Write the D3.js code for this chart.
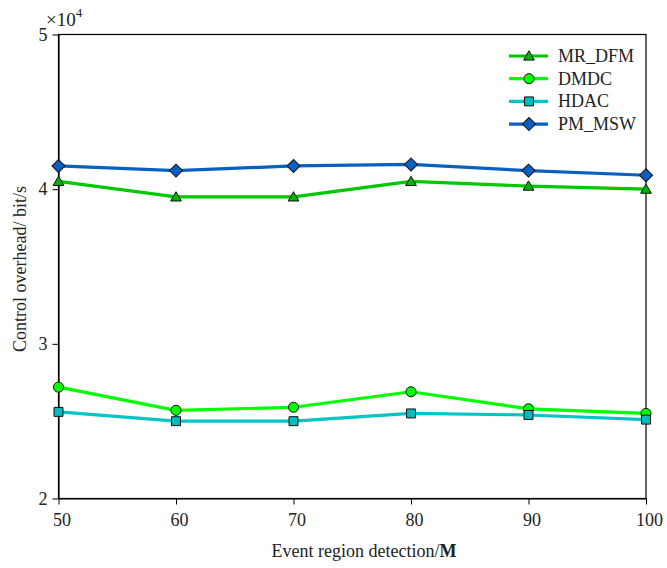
<!DOCTYPE html>
<html><head><meta charset="utf-8">
<script src="https://cdn.jsdelivr.net/npm/d3@7"></script>
<style>
body{margin:0;background:#fff;}
text{font-family:"Liberation Serif","Times New Roman",serif;fill:#222;}
</style></head>
<body><svg id="c" width="667" height="568"></svg>
<script>
const xValues = [50, 60, 70, 80, 90, 100];
const mrDfm = [40500, 39500, 39500, 40500, 40200, 40000];
const dmdc = [27200, 25700, 25900, 26900, 25800, 25500];
const hdac = [25600, 25000, 25000, 25500, 25400, 25100];
const pmMsw = [41500, 41200, 41500, 41600, 41200, 40900];
const yTicks = [20000, 30000, 40000, 50000];
const seriesNames = ["MR_DFM", "DMDC", "HDAC", "PM_MSW"];

const series = [
  {name: seriesNames[0], values: mrDfm, line: "#00c800", fill: "#00b400", sym: d3.symbolTriangle, size: 50, rot: 0, dy: 1},
  {name: seriesNames[1], values: dmdc, line: "#00ff00", fill: "#00ff00", sym: d3.symbolCircle, size: 80, rot: 0, dy: 0},
  {name: seriesNames[2], values: hdac, line: "#00c4c4", fill: "#00bcbc", sym: d3.symbolSquare, size: 80, rot: 0, dy: 0},
  {name: seriesNames[3], values: pmMsw, line: "#0a60c0", fill: "#0a60c0", sym: d3.symbolSquare, size: 85, rot: 45, dy: 0}
];

const svg = d3.select("#c");
const L = 58.5, R = 646, T = 34.5, B = 498.5;
const x = d3.scaleLinear().domain([50, 100]).range([L, R]);
const y = d3.scaleLinear().domain([20000, 50000]).range([B, T]);

// frame
svg.append("rect").attr("x", L).attr("y", T).attr("width", R - L).attr("height", B - T)
  .attr("fill", "none").attr("stroke", "#000").attr("stroke-width", 1.2);

const xa = svg.append("g").attr("transform", `translate(0,${B})`)
  .call(d3.axisBottom(x).tickValues(xValues).tickSize(6).tickSizeOuter(0).tickPadding(9).tickFormat(d3.format("d")));
xa.attr("font-family", null);
xa.select(".domain").attr("stroke", "#000").attr("stroke-width", 1.2);
xa.selectAll(".tick line").attr("stroke", "#000");
xa.selectAll(".tick text").attr("font-size", 18).attr("dx", 3).attr("fill", "#222");

const ya = svg.append("g").attr("transform", `translate(${L},0)`)
  .call(d3.axisLeft(y).tickValues(yTicks).tickSize(6).tickSizeOuter(0).tickPadding(5).tickFormat(d => d / 10000));
ya.attr("font-family", null);
ya.select(".domain").attr("stroke", "#000").attr("stroke-width", 1.2);
ya.selectAll(".tick line").attr("stroke", "#000");
ya.selectAll(".tick text").attr("font-size", 18).attr("fill", "#222");

// exponent
const ex = svg.append("text").attr("x", 46).attr("y", 26).attr("font-size", 19);
ex.append("tspan").text("×10");
ex.append("tspan").attr("font-size", 13).attr("dy", -9).text("4");

// axis titles
const xt = svg.append("text").attr("x", 364).attr("y", 557).attr("text-anchor", "middle").attr("font-size", 18);
xt.append("tspan").text("Event region detection/");
xt.append("tspan").attr("font-weight", "bold").text("M");

svg.append("text").attr("transform", "translate(26,269) rotate(-90)")
  .attr("text-anchor", "middle").attr("font-size", 18).text("Control overhead/ bit/s");

const line = d3.line().x((d, i) => x(xValues[i])).y(d => y(d));
series.forEach(s => {
  svg.append("path").attr("d", line(s.values)).attr("fill", "none")
    .attr("stroke", s.line).attr("stroke-width", 3.2).attr("stroke-linejoin", "round");
});
series.forEach(s => {
  svg.selectAll(null).data(s.values).enter().append("path")
    .attr("d", d3.symbol().type(s.sym).size(s.size))
    .attr("transform", (d, i) => `translate(${x(xValues[i])},${y(d) + s.dy}) rotate(${s.rot})`)
    .attr("fill", s.fill).attr("stroke", "#111").attr("stroke-width", 1);
});

// legend
const lg = svg.append("g");
series.forEach((s, i) => {
  const yy = 56 + i * 22.7;
  lg.append("line").attr("x1", 509).attr("x2", 548).attr("y1", yy).attr("y2", yy)
    .attr("stroke", s.line).attr("stroke-width", 3.2);
  lg.append("path").attr("d", d3.symbol().type(s.sym).size(s.size))
    .attr("transform", `translate(529,${yy + s.dy}) rotate(${s.rot})`)
    .attr("fill", s.fill).attr("stroke", "#111").attr("stroke-width", 1);
  lg.append("text").attr("x", 558).attr("y", yy + 6).attr("font-size", 18).text(s.name);
});
</script></body></html>
